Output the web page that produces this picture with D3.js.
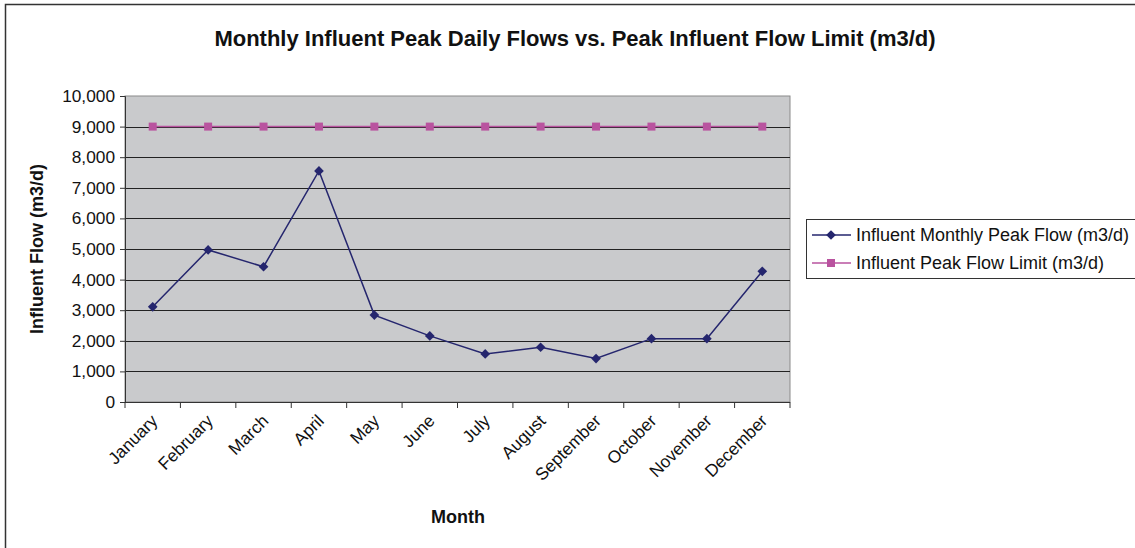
<!DOCTYPE html>
<html>
<head>
<meta charset="utf-8">
<script src="https://cdn.jsdelivr.net/npm/d3@7"></script>
<style>
  body { margin: 0; background: #fff; }
  text { font-family: "Liberation Sans", Arial, sans-serif; fill: #111; }
</style>
</head>
<body>
<svg width="1135" height="548"></svg>
<script>
var months = ["January", "February", "March", "April", "May", "June",
              "July", "August", "September", "October", "November", "December"];
var peakFlow = [3110, 4970, 4420, 7550, 2840, 2160, 1570, 1790, 1420, 2070, 2070, 4270];
var flowLimit = [9000, 9000, 9000, 9000, 9000, 9000, 9000, 9000, 9000, 9000, 9000, 9000];
var yTicks = [0, 1000, 2000, 3000, 4000, 5000, 6000, 7000, 8000, 9000, 10000];
var seriesNames = ["Influent Monthly Peak Flow (m3/d)", "Influent Peak Flow Limit (m3/d)"];

var svg = d3.select("svg");
var plotL = 125, plotR = 790, plotT = 96, plotB = 402;

// outer chart frame (only top/left visible in the picture)
svg.append("rect")
    .attr("x", 5.5).attr("y", 4.5)
    .attr("width", 1140).attr("height", 560)
    .attr("fill", "none").attr("stroke", "#333").attr("stroke-width", 1.5);

var x = d3.scaleBand().domain(months).range([plotL, plotR]);
var y = d3.scaleLinear().domain([0, 10000]).range([plotB, plotT]);

// plot area
svg.append("rect")
    .attr("x", plotL).attr("y", plotT)
    .attr("width", plotR - plotL).attr("height", plotB - plotT)
    .attr("fill", "#c9cacc").attr("stroke", "#8a8a8a");

// gridlines
svg.append("g").selectAll("line")
    .data(yTicks.filter(function(d) { return d > 0 && d < 10000; }))
    .enter().append("line")
    .attr("x1", plotL).attr("x2", plotR)
    .attr("y1", function(d) { return Math.round(y(d)) + 0.5; })
    .attr("y2", function(d) { return Math.round(y(d)) + 0.5; })
    .attr("stroke", "#222").attr("stroke-width", 1);

// y axis
var yAxis = svg.append("g")
    .attr("transform", "translate(" + plotL + ",0)")
    .call(d3.axisLeft(y).tickValues(yTicks).tickSize(5).tickPadding(5)
      .tickFormat(d3.format(",")));
yAxis.select(".domain").attr("stroke", "#333");
yAxis.selectAll(".tick line").attr("stroke", "#333");
yAxis.selectAll("text")
    .style("font-family", "'Liberation Sans', Arial, sans-serif")
    .style("font-size", "17.3px").attr("fill", "#111");

// x axis: ticks at category boundaries
var bounds = months.map(function(m) { return x(m); }).concat([plotR]);
var xAxis = svg.append("g");
xAxis.append("line")
    .attr("x1", plotL).attr("x2", plotR)
    .attr("y1", plotB + 0.5).attr("y2", plotB + 0.5)
    .attr("stroke", "#333");
xAxis.selectAll(".bt").data(bounds).enter().append("line")
    .attr("x1", function(d) { return d; }).attr("x2", function(d) { return d; })
    .attr("y1", plotB).attr("y2", plotB + 6)
    .attr("stroke", "#333");
xAxis.selectAll(".lbl").data(months).enter().append("text")
    .attr("text-anchor", "end")
    .attr("transform", function(d) {
      return "translate(" + (x(d) + x.bandwidth() / 2 + 6) + "," + (plotB + 20) + ") rotate(-45)";
    })
    .style("font-size", "17.3px")
    .text(function(d) { return d; });

// lines
var line = d3.line()
    .x(function(d, i) { return x(months[i]) + x.bandwidth() / 2; })
    .y(function(d) { return y(d); });

svg.append("path").datum(flowLimit)
    .attr("d", line).attr("fill", "none")
    .attr("stroke", "#b9539f").attr("stroke-width", 1.5);
svg.append("path").datum(peakFlow)
    .attr("d", line).attr("fill", "none")
    .attr("stroke", "#25266e").attr("stroke-width", 1.5);

svg.append("g").selectAll("rect")
    .data(flowLimit).enter().append("rect")
    .attr("x", function(d, i) { return x(months[i]) + x.bandwidth() / 2 - 4; })
    .attr("y", function(d) { return y(d) - 4; })
    .attr("width", 8).attr("height", 8)
    .attr("fill", "#b9539f");

var diamond = d3.symbol().type(d3.symbolDiamond2).size(60);
svg.append("g").selectAll("path")
    .data(peakFlow).enter().append("path")
    .attr("d", diamond)
    .attr("transform", function(d, i) {
      return "translate(" + (x(months[i]) + x.bandwidth() / 2) + "," + y(d) + ")";
    })
    .attr("fill", "#25266e");

// titles
svg.append("text")
    .attr("x", 575).attr("y", 46)
    .attr("text-anchor", "middle")
    .style("font-size", "22px").style("font-weight", "bold")
    .text("Monthly Influent Peak Daily Flows vs. Peak Influent Flow Limit (m3/d)");

svg.append("text")
    .attr("x", 458).attr("y", 523)
    .attr("text-anchor", "middle")
    .style("font-size", "18px").style("font-weight", "bold")
    .text("Month");

svg.append("text")
    .attr("transform", "translate(43," + ((plotT + plotB) / 2) + ") rotate(-90)")
    .attr("text-anchor", "middle")
    .style("font-size", "18px").style("font-weight", "bold")
    .text("Influent Flow (m3/d)");

// legend
var legend = svg.append("g").attr("transform", "translate(806,219)");
legend.append("rect")
    .attr("x", 0.5).attr("y", 0.5).attr("width", 340).attr("height", 59)
    .attr("fill", "#fff").attr("stroke", "#333");
var colors = ["#25266e", "#b9539f"];
var item = legend.selectAll(".item").data(seriesNames).enter().append("g")
    .attr("transform", function(d, i) { return "translate(0," + (16 + i * 28) + ")"; });
item.append("line")
    .attr("x1", 6).attr("x2", 45).attr("y1", 0).attr("y2", 0)
    .attr("stroke", function(d, i) { return colors[i]; }).attr("stroke-width", 1.5);
item.append("path")
    .attr("d", function(d, i) {
      return i === 0 ? diamond() : "M-4,-4h8v8h-8z";
    })
    .attr("transform", "translate(25,0)")
    .attr("fill", function(d, i) { return colors[i]; });
item.append("text")
    .attr("x", 50).attr("y", 6)
    .style("font-size", "18px")
    .text(function(d) { return d; });
</script>
</body>
</html>
